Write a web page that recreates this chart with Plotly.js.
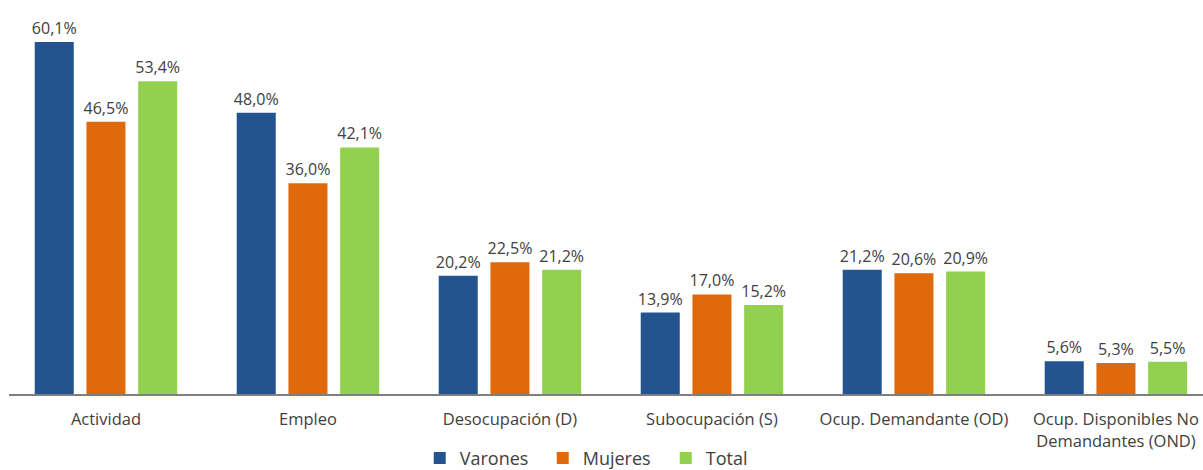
<!DOCTYPE html>
<html>
<head>
<meta charset="utf-8">
<script src="https://cdn.plot.ly/plotly-3.0.1.min.js"></script>
<style>html,body{margin:0;padding:0;background:#fff;}#chart{width:1203px;height:470px;}</style>
</head>
<body>
<div id="chart"></div>
<script>
const categories = ["Actividad", "Empleo", "Desocupación (D)", "Subocupación (S)", "Ocup. Demandante (OD)", "Ocup. Disponibles No<br>Demandantes (OND)"];
const varones = [60.1, 48.0, 20.2, 13.9, 21.2, 5.6];
const mujeres = [46.5, 36.0, 22.5, 17.0, 20.6, 5.3];
const total = [53.4, 42.1, 21.2, 15.2, 20.9, 5.5];
const seriesNames = ["Varones", "Mujeres", "Total"];
const colors = ["#245490", "#E0690C", "#92D050"];

const series = [varones, mujeres, total];
const traces = series.map((vals, i) => ({
  type: "bar",
  name: seriesNames[i],
  x: categories,
  y: vals,
  marker: {color: colors[i]},
  texttemplate: "%{y:.1f}%",
  textposition: "outside",
  constraintext: "none",
  cliponaxis: false,
  textfont: {family: "Open Sans, sans-serif", size: 16, color: "#404040"},
  hoverinfo: "skip"
}));

const layout = {
  width: 1203,
  height: 470,
  margin: {l: 9, r: 0, t: 0, b: 76, autoexpand: false},
  separators: ",.",
  barmode: "group",
  bargap: 0.232,
  bargroupgap: 0.245,
  paper_bgcolor: "#ffffff",
  plot_bgcolor: "#ffffff",
  showlegend: true,
  font: {family: "Open Sans, sans-serif", color: "#404040"},
  xaxis: {
    type: "category",
    range: [-0.48, 5.431],
    showline: true,
    linecolor: "#7f7f7f",
    linewidth: 1.5,
    ticks: "",
    ticklabelstandoff: 10,
    showgrid: false,
    tickfont: {family: "Open Sans, sans-serif", size: 16.5, color: "#404040"},
    automargin: false
  },
  yaxis: {
    range: [0, 67.27],
    visible: false,
    showgrid: false,
    zeroline: false
  },
  legend: {
    orientation: "h",
    x: 0.344,
    xanchor: "left",
    y: -0.163,
    yanchor: "middle",
    entrywidth: 78,
    entrywidthmode: "pixels",
    font: {family: "Open Sans, sans-serif", size: 18, color: "#404040"},
    itemwidth: 30,
    traceorder: "normal"
  }
};

Plotly.newPlot("chart", traces, layout, {displayModeBar: false, staticPlot: true});
</script>
</body>
</html>
